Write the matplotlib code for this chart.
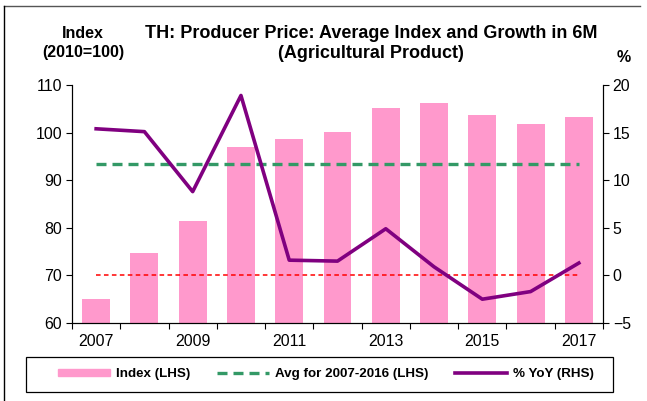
import matplotlib.pyplot as plt
import numpy as np
from matplotlib.lines import Line2D

plt.rcParams['font.family'] = ['Liberation Sans', 'DejaVu Sans']

# Data
years = [2007, 2008, 2009, 2010, 2011, 2012, 2013, 2014, 2015, 2016, 2017]
index_vals = [65.0, 74.8, 81.5, 97.0, 98.6, 100.2, 105.1, 106.3, 103.7, 101.9, 103.2]
yoy_vals = [15.4, 15.1, 8.8, 18.9, 1.6, 1.5, 4.9, 0.9, -2.5, -1.7, 1.3]
avg_level = 93.4
zero_line = 0

W, H = 647, 401
fig = plt.figure(figsize=(W/100, H/100), dpi=100)
ax = fig.add_axes([72/W, 1-323/H, 531/W, 238/H])
ax2 = ax.twinx()

x = np.arange(len(years))

# Bars and lines
ax.bar(x, index_vals, width=0.58, color="#FF99CC", zorder=1)
ax.plot([x[0], x[-1]], [avg_level, avg_level], color="#339966", lw=2.4,
        dashes=(3, 1.8), zorder=3)
ax2.plot([x[0], x[-1]], [zero_line, zero_line], color="#FF0000", lw=1.1,
         dashes=(3, 2.2), zorder=3)
ax2.plot(x, yoy_vals, color="#800080", lw=2.6, zorder=4)

# Axes
ax.set_xlim(-0.5, len(years) - 0.5)
ax.set_ylim(60, 110)
ax2.set_ylim(-5, 20)
ax.set_yticks(np.arange(60, 111, 10))
ax2.set_yticks(np.arange(-5, 21, 5))

ax.set_xticks(x[::2])
ax.set_xticklabels([str(y) for y in years[::2]])
ax.set_xticks(np.arange(-0.5, len(years), 1), minor=True)
ax.tick_params(axis='x', which='major', length=0, pad=8, labelsize=11.4)
ax.tick_params(axis='x', which='minor', length=4, direction='out', width=0.8)
ax.tick_params(axis='y', length=4, direction='out', width=0.8, labelsize=11.4, pad=3)
ax2.tick_params(axis='y', length=4, direction='out', width=0.8, labelsize=11.4, pad=3)

for a in (ax, ax2):
    a.spines['top'].set_visible(False)
    for s in ('left', 'right', 'bottom'):
        a.spines[s].set_linewidth(0.8)
ax.set_zorder(ax2.get_zorder() - 1)
ax.patch.set_visible(False)
ax2.patch.set_visible(False)

# Titles
fig.text(371/W, 1-34/H, "TH: Producer Price: Average Index and Growth in 6M",
         ha='center', va='center', fontsize=13, fontweight='bold')
fig.text(371/W, 1-54/H, "(Agricultural Product)",
         ha='center', va='center', fontsize=13, fontweight='bold')
fig.text(83/W, 1-34/H, "Index", ha='center', va='center', fontsize=11.5, fontweight='bold')
fig.text(83/W, 1-53/H, "(2010=100)", ha='center', va='center', fontsize=11.5, fontweight='bold')
fig.text(624/W, 1-58/H, "%", ha='center', va='center', fontsize=11.5, fontweight='bold')

# Legend (frame drawn separately)
handles = [
    plt.Rectangle((0, 0), 1, 1, color="#FF99CC"),
    Line2D([], [], color="#339966", lw=2.4, dashes=(3, 1.8)),
    Line2D([], [], color="#800080", lw=2.6),
]
labels = ["Index (LHS)", "Avg for 2007-2016 (LHS)", "% YoY (RHS)"]
fig.legend(handles, labels, loc='center', ncol=3,
           bbox_to_anchor=(326/W, 1-374/H), frameon=False,
           prop={'weight': 'bold', 'size': 9.6}, handlelength=3.9,
           handleheight=0.45, handletextpad=0.45, columnspacing=2.0,
           borderpad=0, borderaxespad=0)
fig.add_artist(plt.Rectangle((26/W, 1-392/H), 587/W, 35/H, fill=False,
                             edgecolor='black', lw=0.9, transform=fig.transFigure))

# Outer frame
fig.add_artist(Line2D([4/W, 640/W], [1-6/H, 1-6/H], color='#555555', lw=1,
                      transform=fig.transFigure))
fig.add_artist(Line2D([4/W, 4/W], [1-6/H, 0], color='black', lw=1,
                      transform=fig.transFigure))

fig.savefig("out.png", dpi=100)
